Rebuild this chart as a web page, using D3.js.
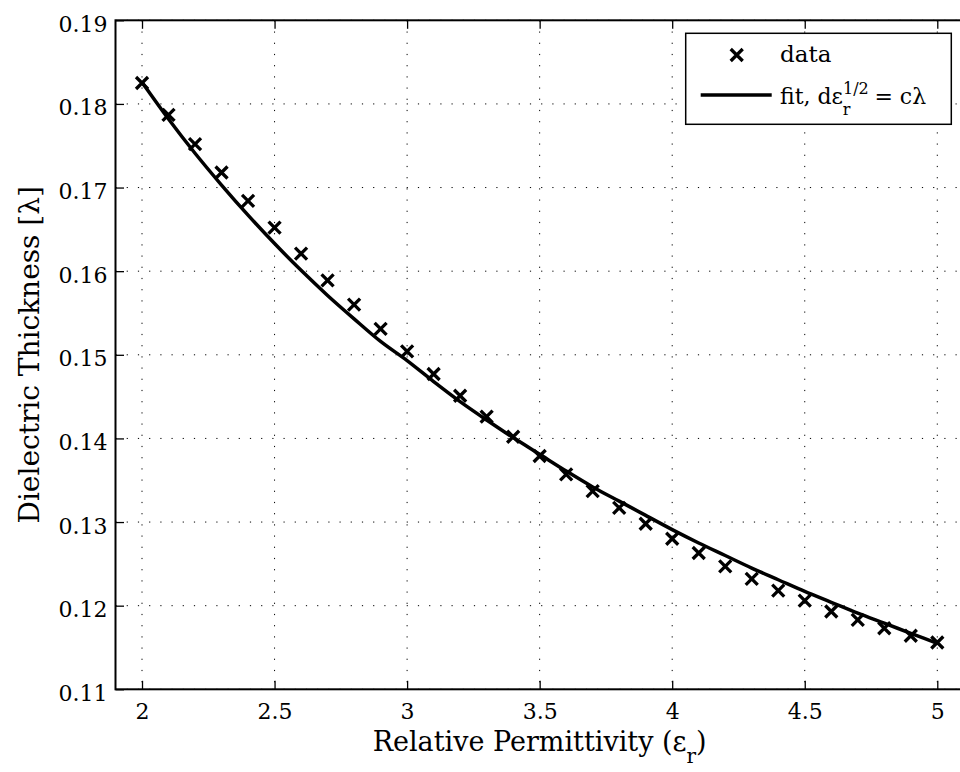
<!DOCTYPE html>
<html>
<head>
<meta charset="utf-8">
<script src="https://cdn.jsdelivr.net/npm/d3@7"></script>
<style>
  body { margin: 0; background: #fff; }
  svg { display: block; font-family: "DejaVu Serif", serif; }
  .grid line { stroke: #000; stroke-width: 1; stroke-dasharray: 1.2 10; }
</style>
</head>
<body>
<svg id="root"></svg>
<script>
  // permittivity values (x) and measured thickness (wavelengths)
  const permittivity = [2.0, 2.1, 2.2, 2.3, 2.4, 2.5, 2.6, 2.7, 2.8, 2.9, 3.0, 3.1, 3.2, 3.3, 3.4, 3.5,
    3.6, 3.7, 3.8, 3.9, 4.0, 4.1, 4.2, 4.3, 4.4, 4.5, 4.6, 4.7, 4.8, 4.9, 5.0];
  const thickness = [0.1825, 0.1787, 0.1752, 0.1718, 0.1684, 0.1652, 0.1621, 0.1589, 0.1560, 0.1531,
    0.1504, 0.1477, 0.1451, 0.1426, 0.1402, 0.1379, 0.1357, 0.1337, 0.1317, 0.1298,
    0.1280, 0.1263, 0.1247, 0.1232, 0.1218, 0.1206, 0.1193, 0.1183, 0.1173, 0.1164, 0.1156];
  // fitted curve read at the same x values
  const fitThickness = [0.1826, 0.1782, 0.1741, 0.1703, 0.1667, 0.1633, 0.1601, 0.1571, 0.1543, 0.1516,
    0.1493, 0.1468, 0.1444, 0.1422, 0.1401, 0.1381, 0.1361, 0.1342, 0.1325, 0.1308,
    0.1291, 0.1275, 0.1260, 0.1245, 0.1231, 0.1217, 0.1204, 0.1191, 0.1179, 0.1167, 0.1155];
  const xTicks = [2, 2.5, 3, 3.5, 4, 4.5, 5];
  const yTicks = [0.11, 0.12, 0.13, 0.14, 0.15, 0.16, 0.17, 0.18, 0.19];

  const W = 960, H = 772;
  const plot = { left: 115.5, right: 963.8, top: 20.3, bottom: 689.3 };

  const svg = d3.select("#root").attr("width", W).attr("height", H);

  const x = d3.scaleLinear().domain([1.9, 5.1]).range([plot.left, plot.right]);
  const y = d3.scaleLinear().domain([0.11, 0.19]).range([plot.bottom, plot.top]);

  // dotted grid
  const grid = svg.append("g").attr("class", "grid");
  grid.selectAll(".gx")
    .data(xTicks)
    .enter().append("line")
    .attr("x1", d => x(d)).attr("x2", d => x(d))
    .attr("y1", plot.top).attr("y2", plot.bottom);
  grid.selectAll(".gy")
    .data(yTicks)
    .enter().append("line")
    .attr("x1", plot.left).attr("x2", plot.right)
    .attr("y1", d => y(d)).attr("y2", d => y(d));

  // axes with inward ticks
  const tickLen = 8.5;
  const xAxis = svg.append("g")
    .attr("transform", `translate(0,${plot.bottom})`)
    .call(d3.axisBottom(x).tickValues(xTicks).tickSizeInner(-tickLen).tickSizeOuter(0).tickPadding(14)
      .tickFormat(d3.format("")));
  const xAxisTop = svg.append("g")
    .attr("transform", `translate(0,${plot.top})`)
    .call(d3.axisTop(x).tickValues(xTicks).tickSizeInner(-tickLen).tickSizeOuter(0).tickFormat(""));
  const yAxis = svg.append("g")
    .attr("transform", `translate(${plot.left},0)`)
    .call(d3.axisLeft(y).tickValues(yTicks).tickSizeInner(-tickLen).tickSizeOuter(0).tickPadding(8)
      .tickFormat(d3.format(".2f")));

  for (let g of [xAxis, xAxisTop, yAxis]) {
    g.select(".domain").remove();
    g.selectAll(".tick line").attr("stroke", "#000").attr("stroke-width", 1.3);
    g.selectAll("text")
      .attr("fill", "#000")
      .style("font-family", "DejaVu Serif, serif")
      .style("font-size", "22px");
  }
  xAxis.selectAll("text").attr("dy", "0.71em");
  yAxis.selectAll("text").attr("dy", "0.5em");

  // frame
  svg.append("rect")
    .attr("x", plot.left).attr("y", plot.top)
    .attr("width", plot.right - plot.left).attr("height", plot.bottom - plot.top)
    .attr("fill", "none").attr("stroke", "#000").attr("stroke-width", 2);

  // fit line
  const line = d3.line()
    .x((d, i) => x(permittivity[i]))
    .y(d => y(d))
    .curve(d3.curveMonotoneX);

  svg.append("path")
    .datum(fitThickness)
    .attr("d", line)
    .attr("fill", "none")
    .attr("stroke", "#000")
    .attr("stroke-width", 3.5)
    .attr("stroke-linejoin", "round");

  // data markers
  const m = 6;
  function drawX(sel) {
    sel.append("path")
      .attr("d", `M${-m},${-m}L${m},${m}M${-m},${m}L${m},${-m}`)
      .attr("stroke", "#000")
      .attr("stroke-width", 3.3)
      .attr("fill", "none");
  }

  svg.selectAll(".pt")
    .data(thickness)
    .enter().append("g")
    .attr("class", "pt")
    .attr("transform", (d, i) => `translate(${x(permittivity[i])},${y(d)})`)
    .call(drawX);

  // axis titles
  const xt = svg.append("text")
    .attr("x", (plot.left + plot.right) / 2)
    .attr("y", 751)
    .attr("text-anchor", "middle")
    .style("font-size", "27px");
  xt.append("tspan").text("Relative Permittivity (ε");
  xt.append("tspan").attr("dy", 12).style("font-size", "20px").text("r");
  xt.append("tspan").attr("dy", -12).text(")");

  svg.append("text")
    .attr("transform", `translate(39,${(plot.top + plot.bottom) / 2}) rotate(-90)`)
    .attr("text-anchor", "middle")
    .style("font-size", "28px")
    .text("Dielectric Thickness [λ]");

  // legend
  const lg = svg.append("g");
  lg.append("rect")
    .attr("x", 685.7).attr("y", 33.3)
    .attr("width", 265.6).attr("height", 91)
    .attr("fill", "#fff").attr("stroke", "#000").attr("stroke-width", 1.5);

  lg.append("g")
    .attr("transform", "translate(736.7,55)")
    .call(drawX);
  lg.append("text")
    .attr("x", 780).attr("y", 62)
    .style("font-size", "23px")
    .text("data");

  lg.append("line")
    .attr("x1", 700.7).attr("x2", 771.7)
    .attr("y1", 95).attr("y2", 95)
    .attr("stroke", "#000").attr("stroke-width", 3.5);
  const ft = lg.append("text")
    .attr("x", 780).attr("y", 104)
    .style("font-size", "22px");
  ft.append("tspan").text("fit, dε");
  ft.append("tspan").attr("dy", -10).style("font-size", "16px").text("1/2");
  ft.append("tspan").attr("dx", -26).attr("dy", 21).style("font-size", "16px").text("r");
  ft.append("tspan").attr("dx", 17).attr("dy", -11).text(" = cλ");
</script>
</body>
</html>
